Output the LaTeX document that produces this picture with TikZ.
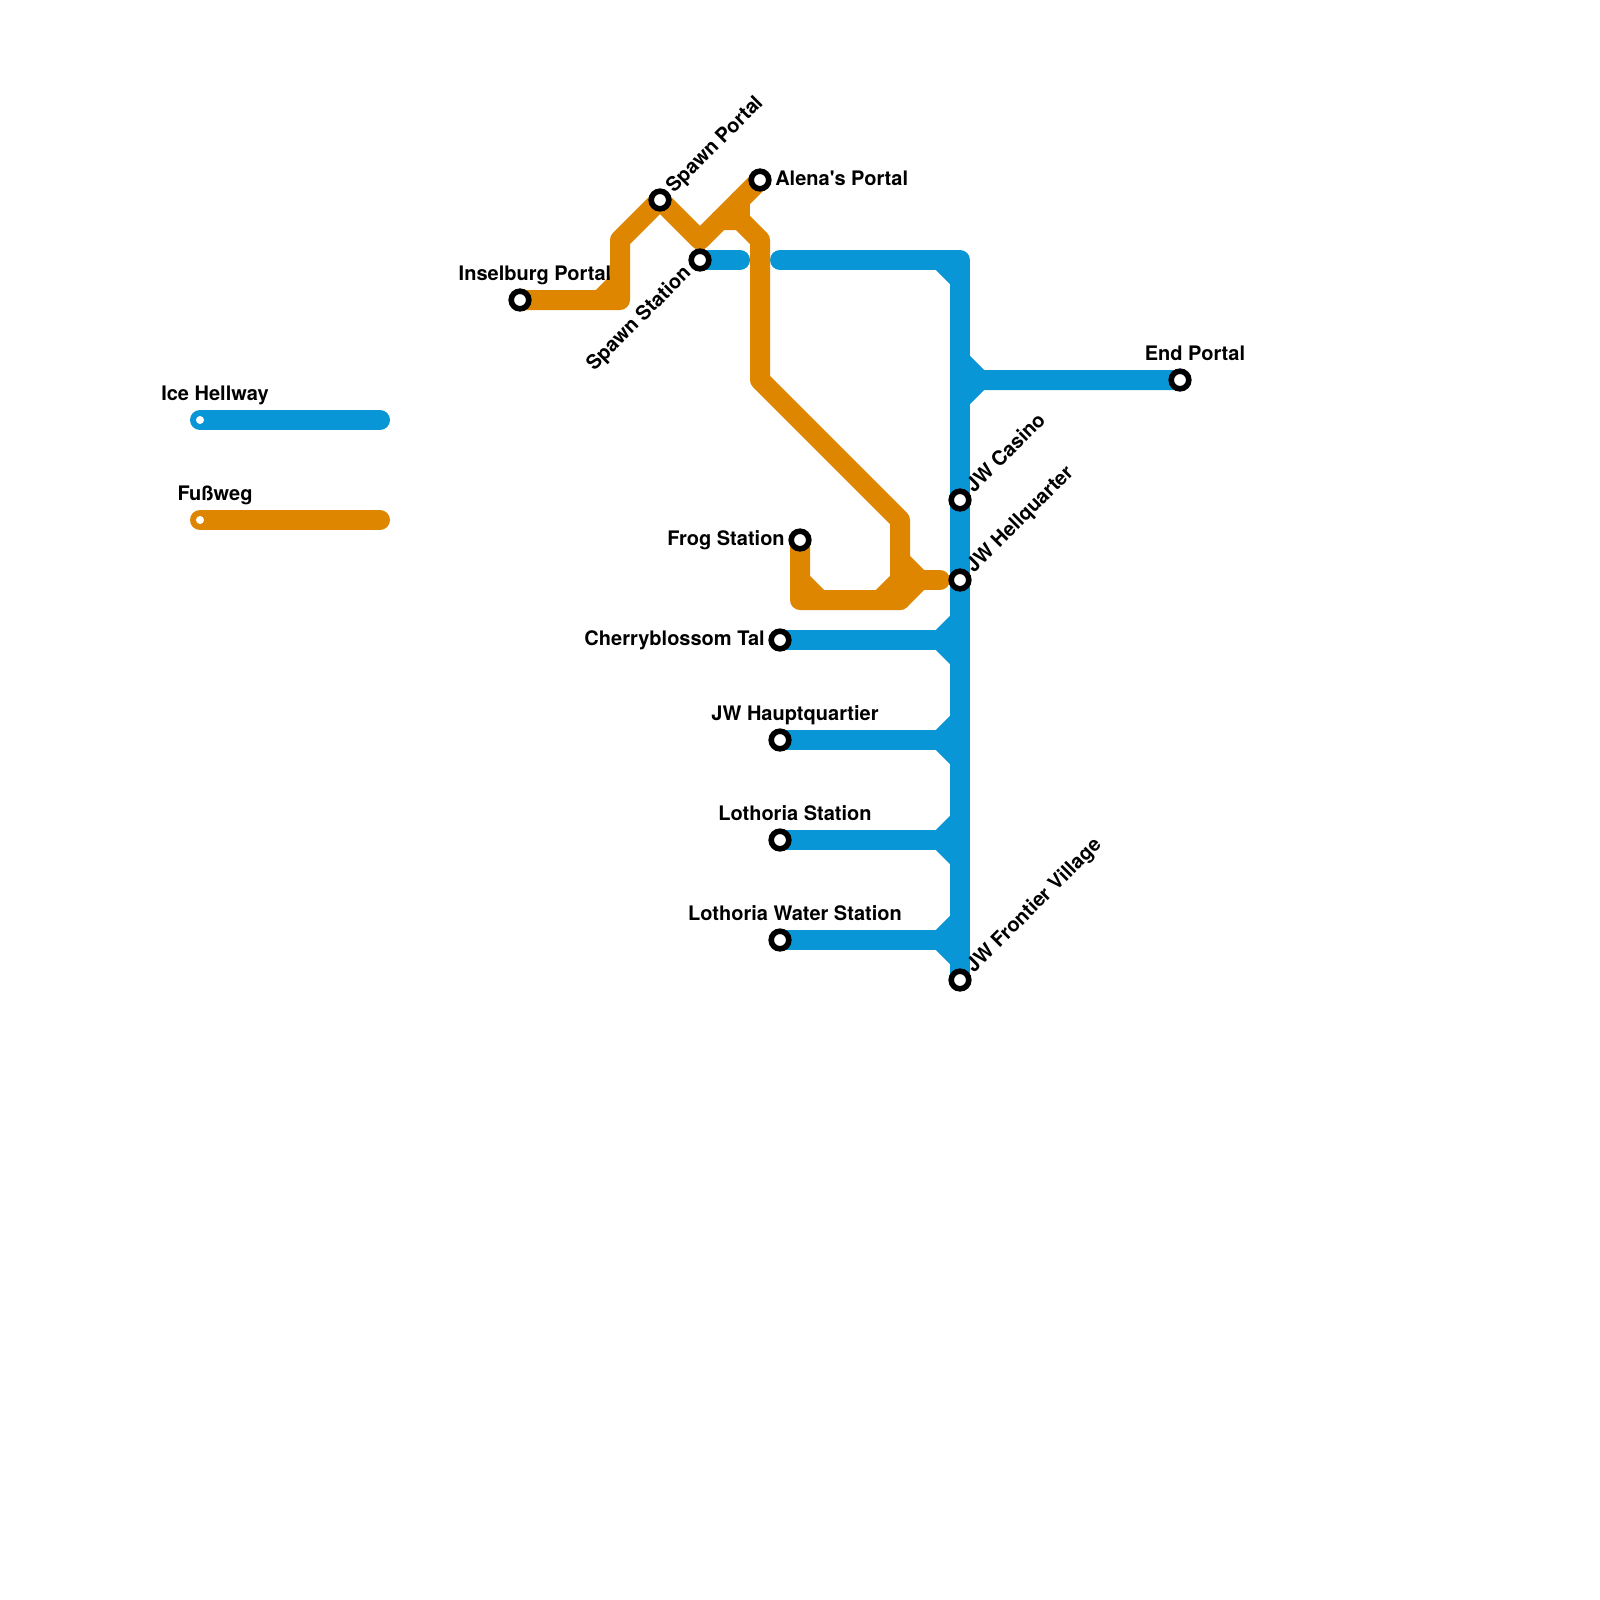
\documentclass[tikz,border=0pt]{standalone}
\usepackage{fontspec}
\setmainfont{TeX Gyre Heros}
\usepackage{tikz}
\usetikzlibrary{backgrounds}
\definecolor{iceblue}{HTML}{0896D7}
\definecolor{walkorange}{HTML}{DF8600}

\begin{document}
\begin{tikzpicture}[
    x=0.025cm, y=-0.025cm,
    iceline/.style={draw=iceblue, line width=0.5cm, line join=round, line cap=round},
    walkline/.style={draw=walkorange, line width=0.5cm, line join=round, line cap=round},
    station/.style={circle, draw=black, fill=white, line width=0.14cm, minimum size=0.44cm, inner sep=0pt},
    legenddot/.style={circle, fill=white, minimum size=0.2cm, inner sep=0pt},
    stationlabel/.style={inner sep=0pt, font=\fontsize{14.23}{17}\selectfont\bfseries},
    tilted/.style={stationlabel, rotate=45, anchor=base west}
]

\useasboundingbox (0,0) rectangle (1600,1600);

% Stations
\node[station] (inselburg) at (520,300) {};
\node[station] (spawnportal) at (660,200) {};
\node[station] (spawnstation) at (700,260) {};
\node[station] (alena) at (760,180) {};
\node[station] (frog) at (800,540) {};
\node[station] (casino) at (960,500) {};
\node[station] (hellquarter) at (960,580) {};
\node[station] (frontier) at (960,980) {};
\node[station] (endportal) at (1180,380) {};
\node[station] (cherry) at (780,640) {};
\node[station] (hauptquartier) at (780,740) {};
\node[station] (lothoria) at (780,840) {};
\node[station] (water) at (780,940) {};

% Bends of the Fussweg
\coordinate (w1) at (620,300);
\coordinate (w2) at (620,240);
\coordinate (w3) at (700,240);
\coordinate (w4) at (720,220);
\coordinate (w5) at (740,220);
\coordinate (w6) at (760,240);
\coordinate (w7) at (760,380);
\coordinate (w8) at (900,520);
\coordinate (w9) at (900,600);
\coordinate (w10) at (800,600);
\coordinate (w11) at (900,580);
\coordinate (w12) at (940,580);

% Bends of the Ice Hellway
\coordinate (i1) at (740,260);
\coordinate (i2) at (780,260);
\coordinate (i3) at (960,260);
\coordinate (i4) at (960,380);
\coordinate (i5) at (980,380);
\coordinate (j1) at (940,640);
\coordinate (j2) at (940,740);
\coordinate (j3) at (940,840);
\coordinate (j4) at (940,940);

% Legend
\coordinate (iceleft) at (200,420);
\coordinate (iceright) at (380,420);
\coordinate (walkleft) at (200,520);
\coordinate (walkright) at (380,520);
\node[legenddot] (icedot) at (iceleft) {};
\node[legenddot] (walkdot) at (walkleft) {};

\begin{scope}[on background layer]
% Ice Hellway
\draw[iceline] (iceleft) -- (iceright);
\draw[iceline] (spawnstation.center) -- (i1);
\draw[iceline] (i2) -- (i3) -- (frontier.center);
\draw[iceline] (i3) ++(-20,0) -- ++(20,20);
\draw[iceline] (i4) ++(0,-20) -- (i5) -- (endportal.center);
\draw[iceline] (i4) ++(0,20) -- (i5);
\draw[iceline] (cherry.center) -- (j1);
\draw[iceline] (j1) ++(20,-20) -- (j1) -- ++(20,20);
\draw[iceline] (hauptquartier.center) -- (j2);
\draw[iceline] (j2) ++(20,-20) -- (j2) -- ++(20,20);
\draw[iceline] (lothoria.center) -- (j3);
\draw[iceline] (j3) ++(20,-20) -- (j3) -- ++(20,20);
\draw[iceline] (water.center) -- (j4);
\draw[iceline] (j4) ++(20,-20) -- (j4) -- ++(20,20);

% Fussweg
\draw[walkline] (walkleft) -- (walkright);
\draw[walkline] (inselburg.center) -- (w1) -- (w2) -- (spawnportal.center) -- (w3) -- (alena.center);
\draw[walkline] (w1) ++(-20,0) -- ++(20,-20);
\draw[walkline] (w4) -- (w5) -- (w6) -- (w7) -- (w8) -- (w9) -- (w10) -- (frog.center);
\draw[walkline] (w5) -- ++(0,-20);
\draw[walkline] (w10) ++(0,-20) -- ++(20,20);
\draw[walkline] (w9) ++(-20,0) -- ++(20,-20);
\draw[walkline] (w11) -- (w12);
\draw[walkline] (w9) -- ++(20,-20) -- ++(-20,-20);
\end{scope}

% Labels
\node[stationlabel, anchor=base] (icelabel) at (215,400) {Ice Hellway};
\node[stationlabel, anchor=base] (walklabel) at (215,500) {Fußweg};
\node[stationlabel, anchor=base] (inselburglabel) at (535,280) {Inselburg Portal};
\node[stationlabel, anchor=base west] (alenalabel) at (775,185) {Alena\textquotesingle s Portal};
\node[stationlabel, anchor=base east] (froglabel) at (785,545) {Frog Station};
\node[stationlabel, anchor=base east] (cherrylabel) at (765,645) {Cherryblossom Tal};
\node[stationlabel, anchor=base] (hauptquartierlabel) at (795,720) {JW Hauptquartier};
\node[stationlabel, anchor=base] (lothorialabel) at (795,820) {Lothoria Station};
\node[stationlabel, anchor=base] (waterlabel) at (795,920) {Lothoria Water Station};
\node[stationlabel, anchor=base] (endportallabel) at (1195,360) {End Portal};
\node[tilted] (spawnportallabel) at (674,194) {Spawn Portal};
\node[tilted] (casinolabel) at (974,494) {JW Casino};
\node[tilted] (hellquarterlabel) at (974,574) {JW Hellquarter};
\node[tilted] (frontierlabel) at (974,974) {JW Frontier Village};
\node[stationlabel, rotate=45, anchor=base east] (spawnstationlabel) at (692,274) {Spawn Station};

\end{tikzpicture}
\end{document}
